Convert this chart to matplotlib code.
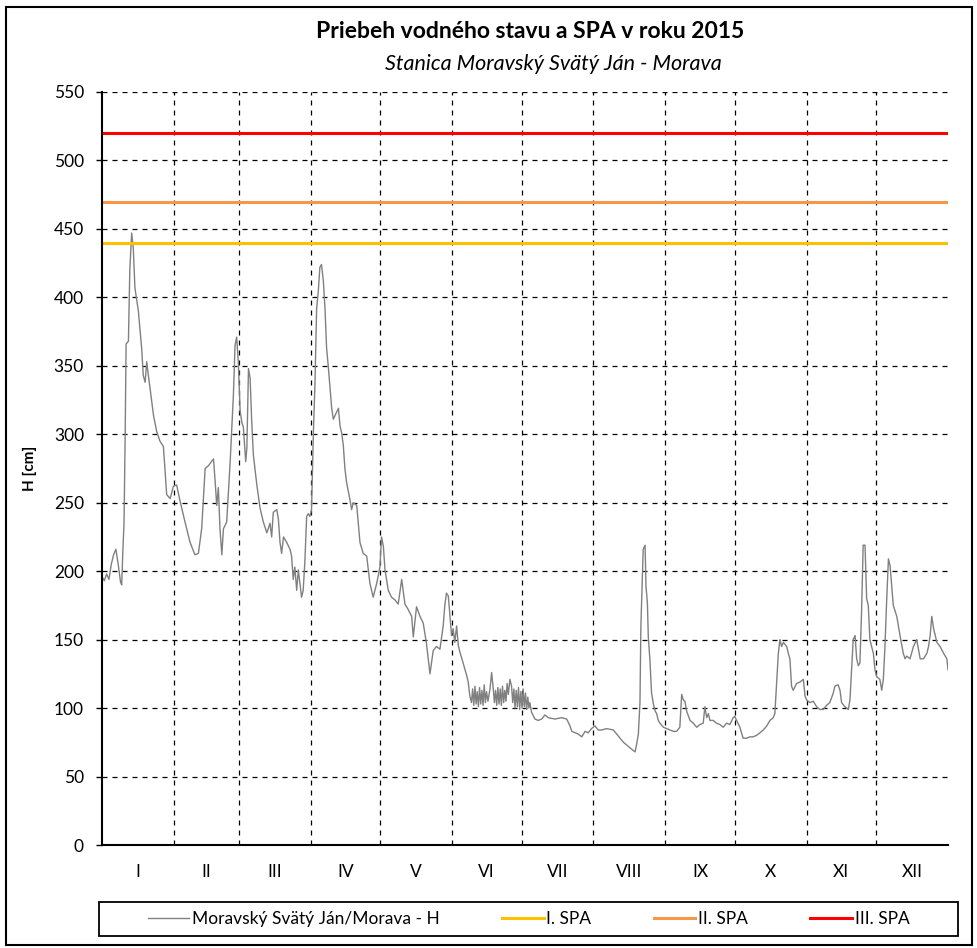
import matplotlib
matplotlib.use("Agg")
import matplotlib.pyplot as plt
from matplotlib.patches import Rectangle

plt.rcParams['font.family'] = ['Lato', 'DejaVu Sans']

# den v roku (0 = 1. januar) a vodny stav H [cm], odcitane z grafu
day = [0, 1, 2, 3, 4, 5, 6, 7, 8, 8.5, 9, 9.5, 10, 10.4, 11.4, 12, 12.8, 13.5, 14.2, 15.7,
       17.1, 17.8, 18.6, 19.3, 20, 20.7, 22.2, 23.6, 25, 26.5, 27.9, 29.4, 30.8, 32.2, 33.7,
       35.8, 38, 40.1, 41.6, 43, 44.5, 45.9, 48.1, 48.8, 49.5, 50.2, 50.9, 51.7, 52.4, 53.8,
       55.3, 56.7, 57.4, 58.1, 58.8, 59.6, 60.3, 61, 62, 62.5, 63.2, 63.9, 64.6, 65.3, 66.8,
       68.2, 69.6, 71.1, 72.5, 73.2, 73.9, 75.4, 76.1, 76.8, 77.5, 78.3, 79.7, 81.1, 81.8,
       82.5, 83.2, 84, 84.7, 85.4, 86.1, 86.8, 87.5, 88.3, 89, 89.7, 90.4, 91.2, 91.9, 92.6,
       93.3, 94, 94.7, 95.5, 96.2, 96.9, 97.6, 98.4, 99.1, 99.8, 101.2, 102, 102.7, 103.4,
       104.1, 104.8, 105.5, 107, 107.7, 108.4, 109.9, 111.3, 112.7, 114.2, 115.6, 117, 118.5,
       119.9, 120.6, 121.4, 122.1, 123.5, 124.9, 126.4, 127.8, 129.3, 130.7, 132.1, 133.6,
       134.3, 135.7, 137.2, 138.6, 140, 141.5, 142.9, 144.3, 145.8, 147.2, 147.9, 148.6,
       149.4, 150.1, 150.8, 151.5, 152.2, 153, 153.7, 154.4, 155.8, 157.3, 158, 158.7,
       159.4, 159.9, 160.4, 160.9, 161.4, 161.9, 162.4, 162.9, 163.4, 163.9, 164.4, 164.9,
       165.4, 165.9, 166.5, 167.4, 168.1, 168.8, 169.3, 169.8, 170.3, 170.8, 171.3, 171.8,
       172.3, 172.8, 173.3, 173.8, 174.3, 174.8, 175.3, 176, 176.7, 177.2, 177.7, 178.2,
       178.7, 179.2, 179.7, 180.2, 180.7, 181.2, 181.7, 182.2, 182.7, 183.2, 183.7, 184.2,
       184.6, 185.3, 186.8, 188.2, 189.7, 191.1, 192.5, 195.4, 198.3, 200.5, 201.9, 202.7,
       204.1, 205.5, 207, 208.4, 209.8, 211.2, 212.7, 214.1, 215.5, 217.7, 220.6, 222.1,
       223.5, 225, 226.4, 227.8, 229.2, 230, 230.7, 231.4, 232.1, 232.5, 233, 233.5, 234.3,
       234.7, 235.3, 235.7, 236.4, 237.1, 237.9, 238.6, 239.3, 240, 240.7, 242.2, 243.6,
       245.1, 246.5, 247.9, 249.3, 250.1, 250.8, 251.5, 252.2, 253.7, 255.1, 256.6, 258,
       259.4, 260.1, 260.9, 261.6, 262.3, 263.7, 265.1, 266.6, 268, 269.5, 270.9, 272.3,
       273, 273.8, 275.2, 276.6, 278.1, 279.5, 280.9, 282.3, 283.9, 285.3, 286.8, 288.2,
       289.6, 290.3, 291, 291.8, 292.5, 293.2, 294, 295.4, 296.1, 296.8, 297.5, 298.2,
       299.7, 301.1, 302.6, 303.3, 304, 305.4, 306.9, 308.3, 309.7, 311.2, 312.6, 314,
       315.5, 316.2, 317.6, 318.4, 319.1, 320.5, 322, 322.7, 323.4, 324.1, 324.9, 325.6,
       326.3, 327, 327.7, 328.4, 329.2, 329.9, 330.6, 331.3, 332.8, 333.5, 334.2, 335.6,
       336.4, 337.1, 337.8, 338.5, 339.3, 340, 340.7, 341.4, 342.9, 344.3, 345.7, 346.5,
       347.2, 348.6, 350.1, 351.5, 353, 354.4, 355.9, 356.6, 357.3, 358, 358.8, 359.5,
       360.2, 361.6, 363.1, 364.5, 365]
level = [196, 193, 198, 194, 205, 212, 216, 205, 192, 190, 215, 235, 300, 366, 368, 420, 447, 436, 407, 390,
         363, 343, 338, 353, 343, 334, 314, 302, 295, 291, 256, 253, 262, 263, 251,
         236, 221, 212, 213, 231, 275, 277, 282, 266, 248, 261, 231, 212, 231, 236,
         280, 329, 365, 371, 353, 317, 309, 305, 280, 290, 348, 341, 309, 285, 263,
         246, 236, 228, 235, 225, 243, 245, 238, 221, 213, 225, 221, 216, 211,
         194, 203, 186, 201, 191, 181, 186, 206, 240, 242, 240, 245, 301, 338, 392,
         404, 422, 424, 412, 392, 363, 350, 333, 319, 311, 316, 319, 306, 301,
         292, 275, 265, 252, 245, 250, 248, 221, 213, 211, 191, 181, 191,
         203, 225, 218, 201, 186, 181, 179, 176, 194, 176, 172, 167,
         152, 174, 167, 162, 147, 125, 142, 145, 143, 160, 175, 184,
         182, 168, 153, 158, 148, 160, 146, 141, 133, 124, 119, 109,
         104, 114, 102, 116, 103, 112, 101, 115, 103, 113, 102, 117,
         104, 112, 105, 114, 126, 114, 104, 113, 102, 115, 103, 114,
         102, 116, 104, 113, 105, 118, 110, 121, 116, 104, 114, 100,
         113, 101, 115, 99, 112, 100, 114, 101, 111, 99, 108, 100,
         104, 97, 92, 91, 92, 95, 93, 92, 93, 92, 87, 83,
         82, 81, 79, 83, 82, 85, 87, 84, 84, 85, 84, 81,
         78, 75, 73, 71, 69, 68, 74, 81, 104, 160, 189, 216, 219,
         189, 177, 152, 135, 111, 103, 98, 96, 91, 89, 86, 85,
         84, 83, 83, 86, 110, 106, 105, 98, 91, 89, 86, 88,
         89, 101, 93, 96, 91, 91, 89, 88, 86, 89, 88, 93,
         94, 91, 86, 78, 78, 79, 79, 80, 82, 84, 87, 91,
         93, 96, 116, 140, 150, 145, 148, 145, 140, 136, 116, 113,
         118, 119, 121, 109, 106, 104, 105, 101, 99, 99, 102, 104,
         111, 116, 117, 113, 104, 101, 99, 106, 128, 150, 153, 136,
         131, 133, 170, 219, 219, 180, 175, 150, 140, 128, 123, 121,
         113, 121, 145, 177, 209, 204, 189, 175, 167, 153, 140, 136,
         138, 136, 145, 150, 136, 136, 140, 145, 153, 167, 158, 153,
         148, 145, 140, 136, 128]

# stupne povodnovej aktivity
spa_levels = [440, 470, 520]
spa_labels = ['I. SPA', 'II. SPA', 'III. SPA']
spa_colors = ['#FFC000', '#F79646', '#FF0000']

month_days = [31, 28, 31, 30, 31, 30, 31, 31, 30, 31, 30, 31]
month_names = ['I', 'II', 'III', 'IV', 'V', 'VI', 'VII', 'VIII', 'IX', 'X', 'XI', 'XII']

fig = plt.figure(figsize=(9.77, 9.48), dpi=100)
ax = fig.add_axes([102 / 977, 1 - 845 / 948, 846 / 977, 753 / 948])

line, = ax.plot(day, level, color='#808080', linewidth=1.0, label='Moravský Svätý Ján/Morava - H')
spa_handles = []
for lvl, lab, col in zip(spa_levels, spa_labels, spa_colors):
    h = ax.axhline(lvl, color=col, linewidth=2.2, label=lab)
    spa_handles.append(h)

ax.set_xlim(0, 365)
ax.set_ylim(0, 550)
ax.set_yticks(range(0, 551, 50))

# hranice mesiacov a popisky v strede mesiaca
bounds = [0]
for d in month_days:
    bounds.append(bounds[-1] + d)
for b in bounds[1:-1]:
    ax.axvline(b, color='black', linestyle=(0, (4, 4)), linewidth=0.9, zorder=0)
for y in range(50, 551, 50):
    ax.axhline(y, color='black', linestyle=(0, (4, 4)), linewidth=0.9, zorder=0)
centers = [(bounds[i] + bounds[i + 1]) / 2 for i in range(12)]
ax.set_xticks(centers)
ax.set_xticklabels(month_names)
ax.tick_params(axis='x', length=0, pad=14, labelsize=12.5)
ax.tick_params(axis='y', direction='out', length=4, width=1, pad=9, labelsize=12.5)

ax.spines['top'].set_visible(False)
ax.spines['right'].set_visible(False)
ax.spines['left'].set_linewidth(1.5)
ax.spines['bottom'].set_linewidth(1.5)

ax.set_ylabel('H [cm]', fontsize=11, fontweight='bold', labelpad=12)

fig.text(530 / 977, 1 - 32 / 948, 'Priebeh vodného stavu a SPA v roku 2015',
         ha='center', va='center', fontsize=16.5, fontweight='bold')
fig.text(553 / 977, 1 - 64 / 948, 'Stanica Moravský Svätý Ján - Morava',
         ha='center', va='center', fontsize=15.5, style='italic')

leg = fig.legend(handles=[line] + spa_handles, loc='center', ncol=4,
                 bbox_to_anchor=(99 / 977, 1 - 936 / 948, 859 / 977, 34 / 948),
                 frameon=False, fontsize=12.5, handlelength=2.4,
                 handletextpad=0.15, columnspacing=3.6, borderaxespad=0)
fig.patches.append(Rectangle((99 / 977, 1 - 936 / 948), 859 / 977, 34 / 948,
                             transform=fig.transFigure, fill=False,
                             edgecolor='black', linewidth=1.3))

fig.patches.append(Rectangle((6 / 977, 3 / 948), 966 / 977, 938 / 948, transform=fig.transFigure,
                             fill=False, edgecolor='black', linewidth=1.5))

fig.savefig('out.png', dpi=100)
